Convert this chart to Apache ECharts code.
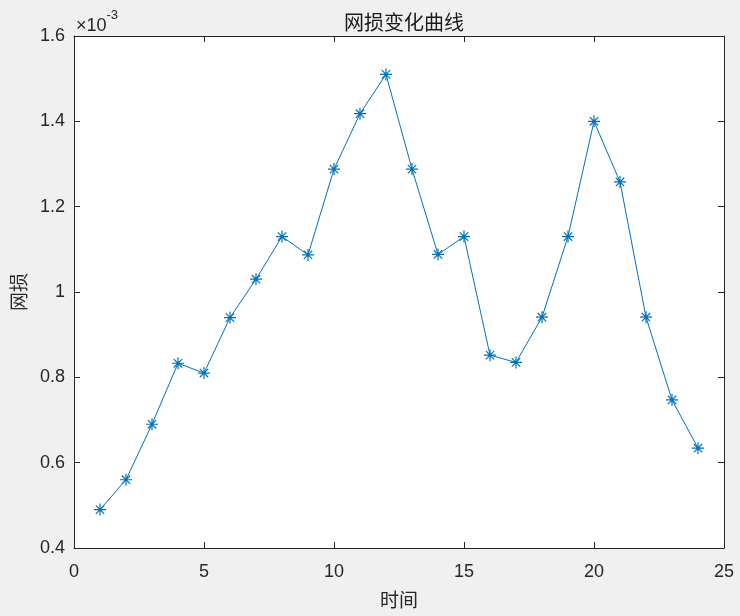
<!DOCTYPE html>
<html>
<head>
<meta charset="utf-8">
<script src="https://cdn.jsdelivr.net/npm/echarts@6/dist/echarts.min.js"></script>
<style>
html,body{margin:0;padding:0;background:#f0f0f0;}
#c{width:740px;height:616px;}
</style>
</head>
<body>
<div id="c"></div>
<script>
// time points
const times = [1,2,3,4,5,6,7,8,9,10,11,12,13,14,15,16,17,18,19,20,21,22,23,24];
// network loss values, in units of 1e-3
const netLoss = [0.49,0.56,0.69,0.833,0.81,0.94,1.03,1.13,1.087,1.288,1.418,1.51,1.288,1.088,1.13,0.852,0.835,0.941,1.13,1.40,1.258,0.941,0.747,0.634];
const xTicks = [0,5,10,15,20,25];
const yTicks = [0.4,0.6,0.8,1.0,1.2,1.4,1.6];

const chart = echarts.init(document.getElementById('c'));
const data = times.map((t,i)=>[t, netLoss[i]]);
const axisColor = '#262626';
const latin = 'Liberation Sans, Arial, sans-serif';
const labelFont = {color:'#262626', fontSize:18, fontFamily:latin};
const cjk = '"Noto Sans CJK SC", sans-serif';
const fmtY = v => String(parseFloat(v.toFixed(2)));

chart.setOption({
  backgroundColor:'#f0f0f0',
  animation:false,
  title:{
    text:'网损变化曲线', left:399, top:7, textAlign:'center',
    textStyle:{fontFamily:cjk, fontSize:20, fontWeight:'normal', color:'#1a1a1a'}
  },
  graphic:[{
    type:'text', left:76, top:9,
    style:{
      text:'{a|×10}{s|-3}',
      rich:{
        a:{fontSize:18, fontFamily:latin, fill:'#262626', lineHeight:26, verticalAlign:'bottom'},
        s:{fontSize:13, fontFamily:latin, fill:'#262626', lineHeight:26, verticalAlign:'top'}
      }
    }
  }],
  grid:{left:74, top:36, right:16, bottom:68, show:true, backgroundColor:'#ffffff', borderWidth:0},
  xAxis:[{
    type:'value', min:xTicks[0], max:xTicks[xTicks.length-1], interval:5,
    name:'时间', nameLocation:'middle', nameGap:42,
    nameTextStyle:{fontFamily:cjk, fontSize:19, color:'#262626'},
    axisLine:{show:true, onZero:false, lineStyle:{color:axisColor, width:1}},
    axisTick:{show:true, inside:true, length:6, lineStyle:{color:axisColor}},
    axisLabel:Object.assign({margin:15}, labelFont),
    splitLine:{show:false}
  },{
    type:'value', position:'top', min:0, max:25, interval:5,
    axisLine:{show:true, onZero:false, lineStyle:{color:axisColor, width:1}},
    axisTick:{show:true, inside:true, length:6, lineStyle:{color:axisColor}},
    axisLabel:{show:false}, splitLine:{show:false}
  }],
  yAxis:[{
    type:'value', min:yTicks[0], max:yTicks[yTicks.length-1], interval:0.2,
    name:'网损', nameLocation:'middle', nameGap:46, nameRotate:90,
    nameTextStyle:{fontFamily:cjk, fontSize:19, color:'#262626'},
    axisLine:{show:true, onZero:false, lineStyle:{color:axisColor, width:1}},
    axisTick:{show:true, inside:true, length:6, lineStyle:{color:axisColor}},
    axisLabel:Object.assign({margin:9, formatter:fmtY}, labelFont),
    splitLine:{show:false}
  },{
    type:'value', position:'right', min:0.4, max:1.6, interval:0.2,
    axisLine:{show:true, onZero:false, lineStyle:{color:axisColor, width:1}},
    axisTick:{show:true, inside:true, length:6, lineStyle:{color:axisColor}},
    axisLabel:{show:false}, splitLine:{show:false}
  }],
  series:[{
    type:'line', data:data, xAxisIndex:0, yAxisIndex:0,
    lineStyle:{color:'#0072BD', width:1},
    symbol:'path://M0 5 L10 5 M5 0 L5 10 M1.5 1.5 L8.5 8.5 M8.5 1.5 L1.5 8.5',
    symbolSize:12, symbolKeepAspect:true, showAllSymbol:true,
    itemStyle:{color:'rgba(0,0,0,0)', borderColor:'#0072BD', borderWidth:1.2},
    emphasis:{disabled:true}
  }]
});
</script>
</body>
</html>
